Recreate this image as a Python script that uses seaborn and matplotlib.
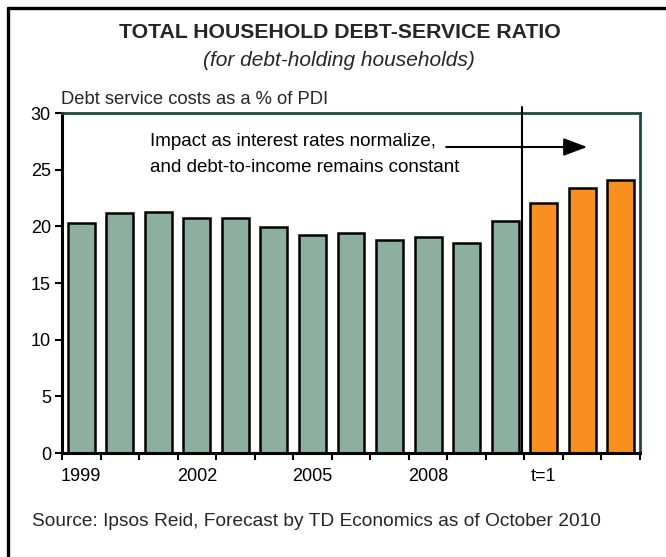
import matplotlib
matplotlib.use("Agg")
import matplotlib.pyplot as plt
from matplotlib.lines import Line2D
import seaborn as sns
import pandas as pd

# Debt-service ratio, historical years then forecast periods
categories = ["1999", "2000", "2001", "2002", "2003", "2004", "2005", "2006",
              "2007", "2008", "2009", "2010", "t=1", "t=2", "t=3"]
ratio = [20.3, 21.15, 21.25, 20.75, 20.7, 19.95, 19.25, 19.4,
         18.8, 19.05, 18.5, 20.5, 22.1, 23.4, 24.1]
period = ["Actual"] * 12 + ["Forecast"] * 3
shown_labels = {"1999": "1999", "2002": "2002", "2005": "2005", "2008": "2008", "t=1": "t=1"}

sns.set_theme(style="white")
plt.rcParams["font.family"] = ["Liberation Sans", "DejaVu Sans"]

df = pd.DataFrame({"period_label": categories, "ratio": ratio, "kind": period})

fig = plt.figure(figsize=(6.66, 5.57), dpi=100)
ax = fig.add_axes([62 / 666, 1 - 453 / 557, (640 - 62) / 666, (453 - 113) / 557])

sns.barplot(data=df, x="period_label", y="ratio", hue="kind", order=categories,
            palette={"Actual": "#8daf9f", "Forecast": "#f7901e"}, dodge=False,
            width=0.7, edgecolor="black", linewidth=1.8, saturation=1,
            legend=False, ax=ax)

ax.set_ylim(0, 30)
ax.set_xlim(-0.5, len(categories) - 0.5)
ax.set_yticks(range(0, 31, 5))
ax.tick_params(axis="y", labelsize=13, length=5, width=1.5, color="black",
               direction="out", left=True, pad=3)
ax.set_xticks(range(len(categories)))
ax.set_xticklabels([shown_labels.get(c, "") for c in categories], fontsize=13)
ax.tick_params(axis="x", which="major", length=0, pad=11)
ax.set_xticks([i - 0.5 for i in range(len(categories) + 1)], minor=True)
ax.tick_params(axis="x", which="minor", length=5, width=1.5, color="black",
               direction="out", bottom=True)
ax.set_xlabel("")
ax.set_ylabel("")
for t in ax.get_xticklabels() + ax.get_yticklabels():
    t.set_color("black")

for side in ["left", "bottom"]:
    ax.spines[side].set_color("black")
    ax.spines[side].set_linewidth(2.2)
for side in ["top", "right"]:
    ax.spines[side].set_color("#1d4a3a")
    ax.spines[side].set_linewidth(2.0)

# divider between history and forecast
ax.plot([11.45, 11.45], [0, 30.5], color="black", lw=1.5, clip_on=False, zorder=5)

ax.annotate("", xy=(13.2, 27.0), xytext=(9.4, 27.0),
            arrowprops=dict(arrowstyle="-|>,head_length=1.2,head_width=0.45",
                            color="black", lw=1.5))
ax.text(1.79, 27.45, "Impact as interest rates normalize,", fontsize=13.5,
        ha="left", va="center", color="black")
ax.text(1.79, 25.2, "and debt-to-income remains constant", fontsize=13.5,
        ha="left", va="center", color="black")

fig.text(340 / 666, 1 - 33 / 557, "TOTAL HOUSEHOLD DEBT-SERVICE RATIO",
         fontsize=15.3, fontweight="bold", ha="center", va="center")
fig.text(339 / 666, 1 - 61 / 557, "(for debt-holding households)",
         fontsize=15, style="italic", ha="center", va="center")
fig.text(61 / 666, 1 - 99 / 557, "Debt service costs as a % of PDI",
         fontsize=13.2, ha="left", va="center")
fig.text(32 / 666, 1 - 521 / 557, "Source: Ipsos Reid, Forecast by TD Economics as of October 2010",
         fontsize=13.8, ha="left", va="center")

# outer frame edges
fig.add_artist(Line2D([8 / 666, 8 / 666], [0, 1 - 8 / 557], transform=fig.transFigure,
                      color="black", lw=2.4))
fig.add_artist(Line2D([8 / 666, 1], [1 - 8 / 557, 1 - 8 / 557], transform=fig.transFigure,
                      color="black", lw=2.4))

fig.savefig("out.png", dpi=100)
